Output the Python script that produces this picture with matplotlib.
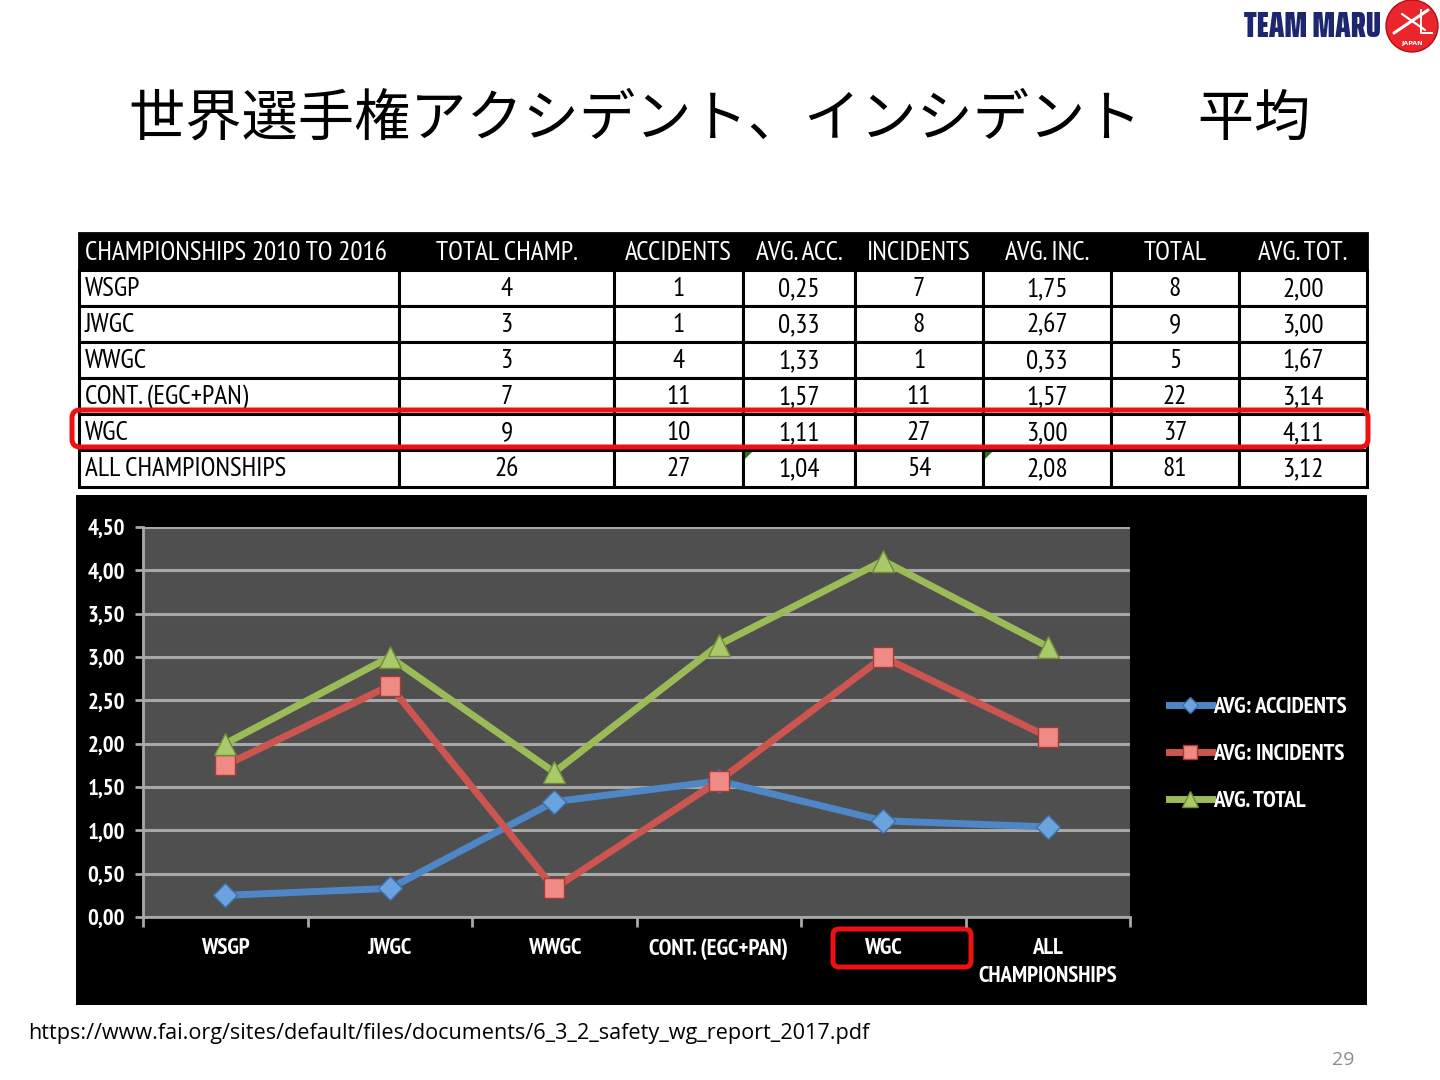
import matplotlib
matplotlib.use("Agg")
import matplotlib.pyplot as plt
from matplotlib.patches import Rectangle, FancyBboxPatch, Circle, Polygon
from matplotlib.font_manager import FontProperties
from matplotlib.ticker import FuncFormatter, FixedLocator
from matplotlib.lines import Line2D

NARROW = ["PT Sans Narrow", "Roboto Condensed", "Liberation Sans", "DejaVu Sans"]
LOGO = ["Saira ExtraCondensed", "Fira Sans Extra Condensed", "Roboto Condensed", "DejaVu Sans"]
JP = ["Noto Sans CJK JP", "DejaVu Sans"]
PLAIN = ["Open Sans", "DejaVu Sans"]

# --------------------------
# data
# --------------------------
title = "世界選手権アクシデント、インシデント　平均"
table_header = ["CHAMPIONSHIPS 2010 TO 2016", "TOTAL CHAMP.", "ACCIDENTS", "AVG. ACC.",
                "INCIDENTS", "AVG. INC.", "TOTAL", "AVG. TOT."]
row_names = ["WSGP", "JWGC", "WWGC", "CONT. (EGC+PAN)", "WGC", "ALL CHAMPIONSHIPS"]
chart_labels = ["WSGP", "JWGC", "WWGC", "CONT. (EGC+PAN)", "WGC", "ALL\nCHAMPIONSHIPS"]
total_champ = [4, 3, 3, 7, 9, 26]
accidents = [1, 1, 4, 11, 10, 27]
incidents = [7, 8, 1, 11, 27, 54]
totals = [8, 9, 5, 22, 37, 81]
avg_acc = [0.25, 0.33, 1.33, 1.57, 1.11, 1.04]
avg_inc = [1.75, 2.67, 0.33, 1.57, 3.00, 2.08]
avg_tot = [2.00, 3.00, 1.67, 3.14, 4.11, 3.12]
series_names = ["AVG: ACCIDENTS", "AVG: INCIDENTS", "AVG. TOTAL"]
y_ticks = [0, 0.5, 1, 1.5, 2, 2.5, 3, 3.5, 4, 4.5]
source = "https://www.fai.org/sites/default/files/documents/6_3_2_safety_wg_report_2017.pdf"
page_no = "29"


def comma(v):
    return f"{v:.2f}".replace(".", ",")


W, H = 1440, 1080
fig = plt.figure(figsize=(14.4, 10.8), dpi=100)
fig.patch.set_facecolor("white")

# full-slide axes in pixel coordinates
bg = fig.add_axes([0, 0, 1, 1])
bg.set_xlim(0, W)
bg.set_ylim(H, 0)
bg.axis("off")
bg.set_zorder(0)

# --------------------------
# logo
# --------------------------
bg.text(1381, 27, "TEAM MARU", family=LOGO, weight=900, fontsize=26, color="#1c2770",
        ha="right", va="center")
bg.add_patch(Circle((1412, 26), 26, facecolor="#e8262b", edgecolor="#b01015", lw=1))
bg.plot([1394, 1428], [33, 10], color="white", lw=2.2, solid_capstyle="round")
bg.plot([1402, 1425], [14, 30], color="white", lw=1.6, solid_capstyle="round")
bg.plot([1421, 1421, 1432], [10, 33, 33], color="white", lw=1.4)
bg.text(1412, 44, "JAPAN", color="white", fontsize=4.5, ha="center", va="center",
        family="DejaVu Sans", weight="bold")

# --------------------------
# title
# --------------------------
bg.text(720, 120, title, fontsize=40.5, ha="center", va="center", family=JP, color="black")

# --------------------------
# table
# --------------------------
col_edges = [79, 399, 614, 743, 855, 983, 1111, 1239, 1367]
row_edges = [233, 270, 306, 342, 378, 414, 450, 487]
tfont = dict(family=NARROW, fontsize=19.5)

bg.add_patch(Rectangle((col_edges[0], row_edges[0]), col_edges[-1] - col_edges[0],
                       row_edges[1] - row_edges[0], facecolor="black", edgecolor="black", lw=2))
for j, lab in enumerate(table_header):
    cy = (row_edges[0] + row_edges[1]) / 2 + 1
    if j == 0:
        bg.text(col_edges[0] + 6, cy, lab, color="white", ha="left", va="center", **tfont)
    else:
        bg.text((col_edges[j] + col_edges[j + 1]) / 2, cy, lab, color="white",
                ha="center", va="center", **tfont)

for i, name in enumerate(row_names):
    cells = [name, str(total_champ[i]), str(accidents[i]), comma(avg_acc[i]),
             str(incidents[i]), comma(avg_inc[i]), str(totals[i]), comma(avg_tot[i])]
    y0, y1 = row_edges[i + 1], row_edges[i + 2]
    cy = (y0 + y1) / 2 + 1
    for j, txt in enumerate(cells):
        x0, x1 = col_edges[j], col_edges[j + 1]
        bg.add_patch(Rectangle((x0, y0), x1 - x0, y1 - y0, facecolor="white",
                               edgecolor="black", lw=2.2))
        if j == 0:
            bg.text(x0 + 6, cy, txt, color="black", ha="left", va="center", **tfont)
        else:
            bg.text((x0 + x1) / 2, cy, txt, color="black", ha="center", va="center", **tfont)

# little excel error flags in the last row
for j in (3, 5):
    x0, y0 = col_edges[j], row_edges[6]
    bg.add_patch(Polygon([(x0 + 2, y0 + 2), (x0 + 9, y0 + 2), (x0 + 2, y0 + 9)],
                         closed=True, facecolor="#1f7a1f", edgecolor="none"))

# highlight WGC row
bg.add_patch(FancyBboxPatch((72, 410), 1296, 37, boxstyle="round,pad=0,rounding_size=8",
                            facecolor="none", edgecolor="#ee1111", lw=3.6, zorder=5))

# --------------------------
# chart
# --------------------------
bg.add_patch(Rectangle((76, 495), 1367 - 76, 1005 - 495, facecolor="black", edgecolor="none"))

ax = fig.add_axes([143 / W, 1 - 917 / H, (1130 - 143) / W, (917 - 527) / H])
ax.set_zorder(1)
ax.set_facecolor("#4f4f4f")
x = list(range(len(chart_labels)))

styles = [
    dict(color="#4f86c6", marker="D", markersize=12, markerfacecolor="#6aa3dd",
         markeredgecolor="#3d6fa8"),
    dict(color="#cc5550", marker="s", markersize=14, markerfacecolor="#ef8a84",
         markeredgecolor="#a63c38"),
    dict(color="#9bbb59", marker="^", markersize=16, markerfacecolor="#a9c96a",
         markeredgecolor="#6f8c35"),
]
for vals, name, st in zip([avg_acc, avg_inc, avg_tot], series_names, styles):
    ax.plot(x, vals, lw=5, markeredgewidth=1, label=name, zorder=3, **st)

ax.set_xlim(-0.5, len(x) - 0.5)
ax.set_ylim(0, 4.5)
ax.set_yticks(y_ticks)
ax.yaxis.set_major_formatter(FuncFormatter(lambda v, p: comma(v)))
ax.grid(axis="y", color="#a8a8a8", lw=2.2)
ax.set_axisbelow(True)

ax.xaxis.set_major_locator(FixedLocator([k - 0.5 for k in range(len(x) + 1)]))
ax.xaxis.set_major_formatter(FuncFormatter(lambda v, p: ""))
ax.xaxis.set_minor_locator(FixedLocator(x))
ax.set_xticklabels(chart_labels, minor=True)
ax.tick_params(axis="x", which="minor", length=0, pad=15, labelcolor="white")
ax.tick_params(axis="x", which="major", length=7, width=2, color="#a8a8a8", direction="out")
ax.tick_params(axis="y", length=6, width=2, color="#a8a8a8", labelcolor="white", pad=7)
for lab in ax.get_xticklabels(minor=True) + ax.get_yticklabels():
    lab.set_family(NARROW)
    lab.set_fontsize(16.5)
    lab.set_fontweight("bold")
    lab.set_linespacing(1.45)
for lab in ax.get_xticklabels(minor=True):
    lab.set_verticalalignment("top")

for side in ("top", "right"):
    ax.spines[side].set_visible(False)
for side in ("left", "bottom"):
    ax.spines[side].set_color("#a8a8a8")
    ax.spines[side].set_linewidth(2)

handles = []
for st, ms in zip(styles, [8, 10, 11]):
    s = dict(st)
    s["markersize"] = ms
    handles.append(Line2D([], [], lw=5, **s))
leg = fig.legend(handles, series_names,
                 loc="upper left", bbox_to_anchor=(1160 / W, 1 - 688 / H),
                 frameon=False, handlelength=1.85, handletextpad=0.05,
                 labelspacing=1.12, borderaxespad=0,
                 prop=FontProperties(family=NARROW, size=16.5, weight="bold"))
for t in leg.get_texts():
    t.set_color("white")
leg.set_zorder(6)

# red box around WGC x label
bg.add_patch(FancyBboxPatch((833, 929), 138, 38, boxstyle="round,pad=0,rounding_size=6",
                            facecolor="none", edgecolor="#ee1111", lw=3.6, zorder=5))

# --------------------------
# footer
# --------------------------
bg.text(28, 1033, source, fontsize=15.6, family=PLAIN, ha="left", va="center", color="black")
bg.text(1354, 1060, page_no, fontsize=14, family=PLAIN, ha="right", va="center", color="#8c8c8c")

fig.savefig("out.png", dpi=100, facecolor="white")
